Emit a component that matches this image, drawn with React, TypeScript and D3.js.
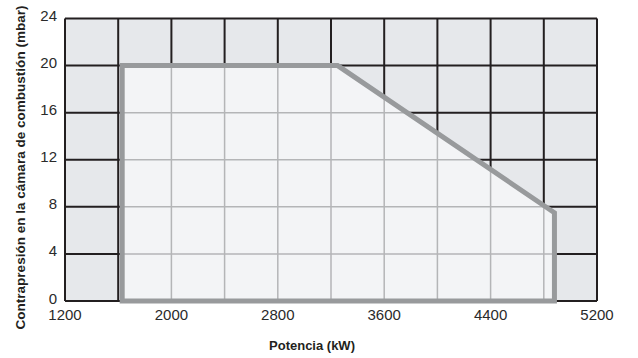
import React from "react";
import * as d3 from "d3";

const xTickValues = [1200, 2000, 2800, 3600, 4400, 5200];
const yTickValues = [0, 4, 8, 12, 16, 20, 24];
const xGridValues = [1200, 1600, 2000, 2400, 2800, 3200, 3600, 4000, 4400, 4800, 5200];
const yGridValues = [0, 4, 8, 12, 16, 20, 24];
const envelopePower = [1630, 1630, 3250, 4880, 4880];
const envelopePressure = [0, 20, 20, 7.5, 0];

const xLabel = "Potencia (kW)";
const yLabel = "Contrapresión en la cámara de combustión (mbar)";

const W = 638;
const H = 358;
const left = 65;
const right = 597;
const top = 18.5;
const bottom = 301;

const DARK = "#231f20";
const OUT_FILL = "#e6e8eb";
const IN_FILL = "#f3f4f6";
const LIGHT_GRID = "#b4b5b7";
const STROKE = "#989a9c";

export default function App() {
  const x = d3.scaleLinear().domain([1200, 5200]).range([left, right]);
  const y = d3.scaleLinear().domain([0, 24]).range([bottom, top]);
  const pts: [number, number][] = envelopePower.map((p, i) => [x(p), y(envelopePressure[i])]);
  const path = d3.line()(pts) + "Z";
  const font = "'Liberation Sans', Arial, sans-serif";

  const grid = (color: string, w: number) => (
    <g stroke={color} strokeWidth={w}>
      {xGridValues.map((v) => (
        <line key={"x" + v} x1={x(v)} x2={x(v)} y1={top} y2={bottom} />
      ))}
      {yGridValues.map((v) => (
        <line key={"y" + v} x1={left} x2={right} y1={y(v)} y2={y(v)} />
      ))}
    </g>
  );

  return (
    <svg
      width={W}
      height={H}
      style={{ position: "absolute", left: 0, top: 0, background: "#fff" }}
    >
      <defs>
        <clipPath id="env">
          <path d={path} />
        </clipPath>
      </defs>
      <rect x={left} y={top} width={right - left} height={bottom - top} fill={OUT_FILL} />
      {grid(DARK, 2)}
      <path d={path} fill={IN_FILL} />
      <g clipPath="url(#env)">{grid(LIGHT_GRID, 1.5)}</g>
      <path d={path} fill="none" stroke={STROKE} strokeWidth={5} strokeLinejoin="miter" />
      <g fontFamily={font} fontSize={15} fill="#2a2a2a">
        {xTickValues.map((v) => (
          <text key={"xt" + v} x={x(v)} y={320} textAnchor="middle">
            {v}
          </text>
        ))}
        {yTickValues.map((v) => (
          <text key={"yt" + v} x={57} y={y(v) + 2.5} textAnchor="end">
            {v}
          </text>
        ))}
      </g>
      <text
        x={312}
        y={350}
        textAnchor="middle"
        fontFamily={font}
        fontWeight="bold"
        fontSize={13}
        fill="#231f20"
      >
        {xLabel}
      </text>
      <text
        transform={`translate(25,167.5) rotate(-90)`}
        textAnchor="middle"
        fontFamily={font}
        fontWeight="bold"
        fontSize={13}
        textLength={324}
        lengthAdjust="spacingAndGlyphs"
        fill="#231f20"
      >
        {yLabel}
      </text>
    </svg>
  );
}
